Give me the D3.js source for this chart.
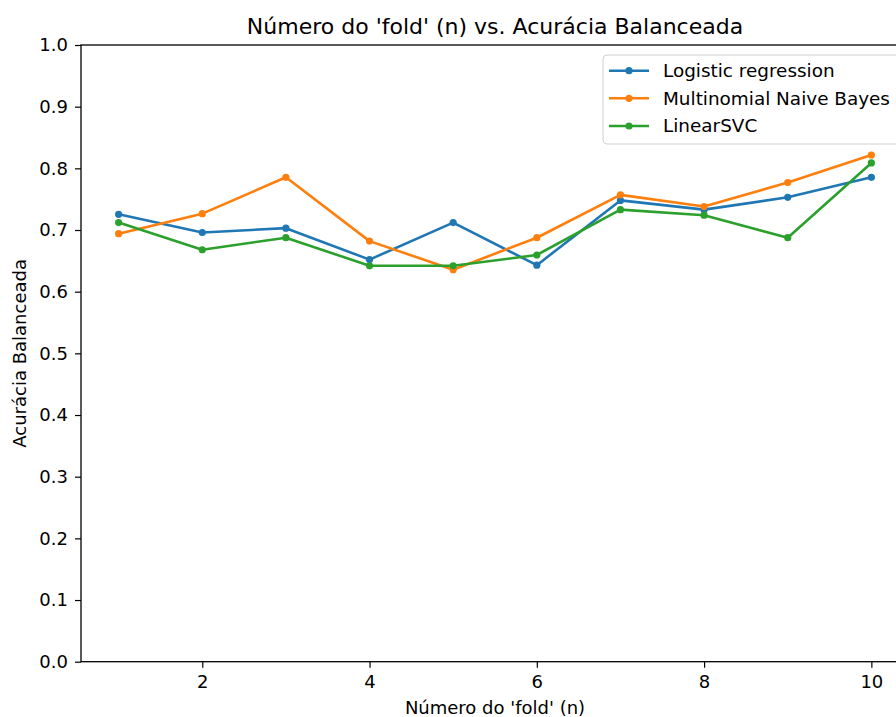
<!DOCTYPE html>
<html>
<head>
<meta charset="utf-8">
<script src="https://cdn.jsdelivr.net/npm/d3@7"></script>
<style>
html,body{margin:0;padding:0;background:#fff;overflow:hidden;}
text{font-family:"DejaVu Sans",sans-serif;fill:#000;}
</style>
</head>
<body>
<svg id="chart" width="896" height="717"></svg>
<script>
const folds = [1,2,3,4,5,6,7,8,9,10];
const logistic = [0.7255,0.696,0.703,0.652,0.712,0.643,0.748,0.733,0.753,0.7855];
const multinomialNB = [0.694,0.7265,0.7855,0.682,0.6357,0.6875,0.757,0.738,0.777,0.8216];
const linearSVC = [0.712,0.668,0.6875,0.642,0.642,0.6595,0.733,0.724,0.6875,0.8087];
const seriesNames = ["Logistic regression","Multinomial Naive Bayes","LinearSVC"];
const seriesColors = ["#1f77b4","#ff7f0e","#2ca02c"];
const xTicks = [2,4,6,8,10];
const yTicks = [0,0.1,0.2,0.3,0.4,0.5,0.6,0.7,0.8,0.9,1.0];

const svg = d3.select("#chart");
const L = 81, R = 909, T = 45, B = 661.7;
const x = d3.scaleLinear().domain([0.55,10.45]).range([L,R]);
const y = d3.scaleLinear().domain([0,1]).range([B,T]);

const xAxis = svg.append("g").attr("transform",`translate(0,${B})`)
  .call(d3.axisBottom(x).tickValues(xTicks).tickSize(6).tickPadding(8).tickFormat(d3.format("d")));
const yAxis = svg.append("g").attr("transform",`translate(${L},0)`)
  .call(d3.axisLeft(y).tickValues(yTicks).tickSize(6).tickPadding(7).tickFormat(d3.format(".1f")));
[xAxis,yAxis].forEach(g=>{
  g.select(".domain").remove();
  g.selectAll("line").attr("stroke","#000").attr("stroke-width",1.2);
  g.selectAll("text").style("font-family","DejaVu Sans").style("font-size","18px").attr("fill","#222");
});
svg.append("rect").attr("x",L).attr("y",T).attr("width",R-L).attr("height",B-T)
  .attr("fill","none").attr("stroke","#000").attr("stroke-width",1.3);

const data = [logistic,multinomialNB,linearSVC];
const line = d3.line().x((d,i)=>x(folds[i])).y(d=>y(d));
data.forEach((vals,k)=>{
  svg.append("path").datum(vals).attr("d",line).attr("fill","none")
    .attr("stroke",seriesColors[k]).attr("stroke-width",2.6).attr("stroke-linejoin","round");
  svg.selectAll(null).data(vals).enter().append("circle")
    .attr("cx",(d,i)=>x(folds[i])).attr("cy",d=>y(d)).attr("r",3.6).attr("fill",seriesColors[k]);
});

const lg = svg.append("g");
lg.append("rect").attr("x",603).attr("y",55).attr("width",300).attr("height",89).attr("rx",4)
  .attr("fill","#fff").attr("fill-opacity",0.8).attr("stroke","#d0d0d0").attr("stroke-width",1);
const ly = [70.7,98.3,126];
seriesNames.forEach((n,k)=>{
  lg.append("line").attr("x1",609).attr("x2",649).attr("y1",ly[k]).attr("y2",ly[k])
    .attr("stroke",seriesColors[k]).attr("stroke-width",2.6);
  lg.append("circle").attr("cx",629).attr("cy",ly[k]).attr("r",3.6).attr("fill",seriesColors[k]);
  lg.append("text").attr("x",663).attr("y",ly[k]).attr("dy","0.35em").style("font-size","18.4px").attr("fill","#222").text(n);
});

svg.append("text").attr("x",(L+R)/2).attr("y",34).attr("text-anchor","middle")
  .style("font-size","22px").attr("fill","#222").text("Número do 'fold' (n) vs. Acurácia Balanceada");
svg.append("text").attr("x",(L+R)/2).attr("y",714).attr("text-anchor","middle")
  .style("font-size","18px").attr("fill","#222").text("Número do 'fold' (n)");
svg.append("text").attr("transform",`translate(26,${(T+B)/2}) rotate(-90)`).attr("text-anchor","middle")
  .style("font-size","18px").attr("fill","#222").text("Acurácia Balanceada");
</script>
</body>
</html>
